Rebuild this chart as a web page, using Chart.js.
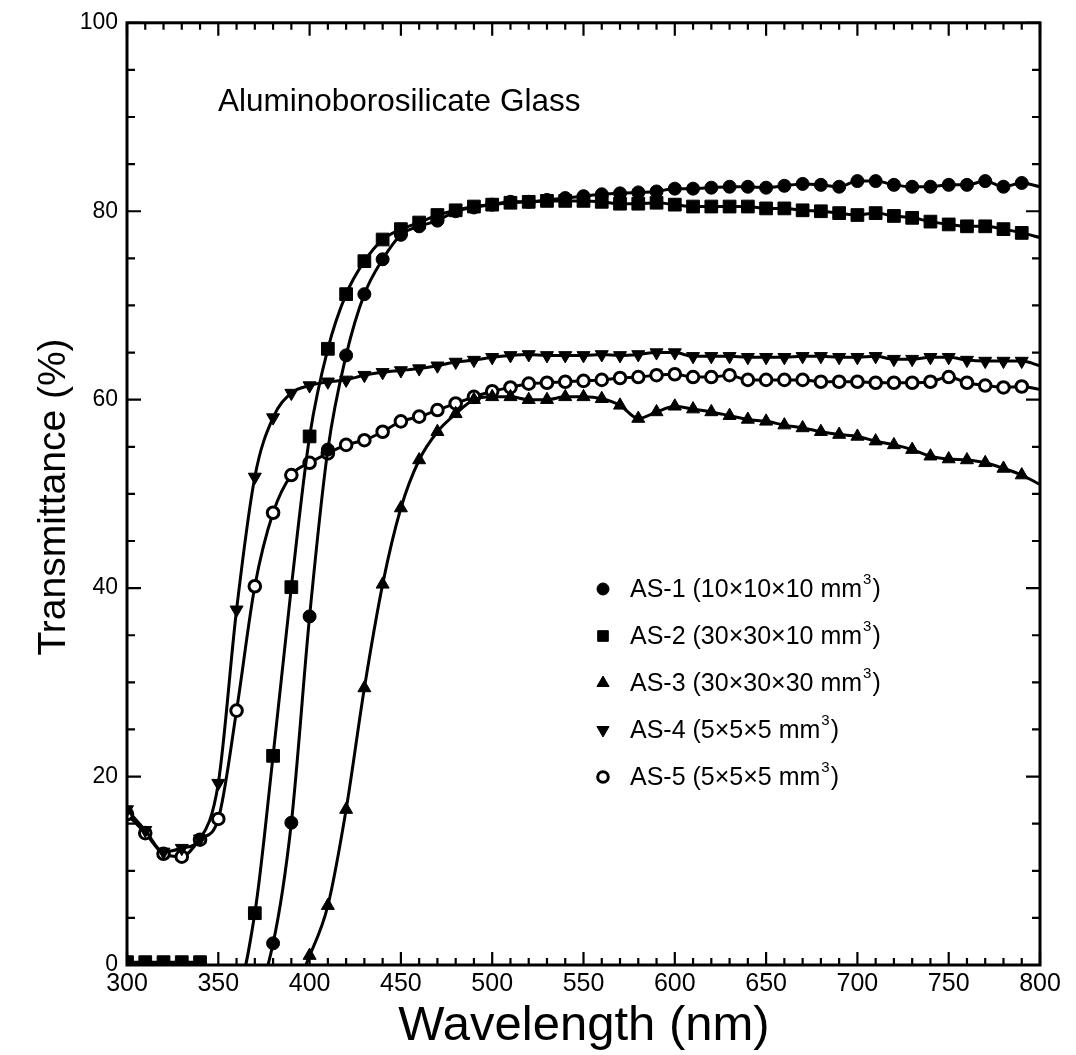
<!DOCTYPE html>
<html>
<head>
<meta charset="utf-8">
<script src="https://cdn.jsdelivr.net/npm/chart.js@4.4.1/dist/chart.umd.min.js"></script>
<style>
  html, body { margin: 0; padding: 0; background: #fff; }
  #wrap { width: 1076px; height: 1055px; }
</style>
</head>
<body>
<div id="wrap"><canvas id="chart" width="1076" height="1055"></canvas></div>
<script>
// wavelength grid (nm), one marker every 10 nm
const wavelengths = [300,310,320,330,340,350,360,370,380,390,400,410,420,430,440,450,460,470,480,490,500,
  510,520,530,540,550,560,570,580,590,600,610,620,630,640,650,660,670,680,690,700,
  710,720,730,740,750,760,770,780,790,800];

// transmittance (%); values below 0 fall outside the plot and are clipped
const as1 = [0.2,0.2,0.2,0.2,0.2,-1,-2,-3,2.3,15.1,37,54.7,64.7,71.2,74.9,77.5,78.4,79,80,80.4,80.7,
  81,81,81.2,81.4,81.6,81.8,81.9,82,82.1,82.4,82.4,82.5,82.6,82.6,82.5,82.7,82.9,82.8,82.6,83.2,
  83.2,82.8,82.6,82.6,82.8,82.8,83.2,82.6,83,82.6];
const as2 = [0.3,0.3,0.3,0.3,0.3,-1.5,-2.5,5.5,22.2,40.1,56.1,65.4,71.2,74.7,77,78.1,78.8,79.6,80.1,80.5,80.7,
  80.9,81,81.1,81.1,81.1,81,80.8,80.8,80.9,80.7,80.5,80.5,80.5,80.5,80.3,80.3,80.1,80,79.8,79.6,
  79.8,79.5,79.3,78.9,78.6,78.4,78.4,78.1,77.7,77.2];
const as3 = [-3,-3,-3,-3,-3,-3,-3,-3,-3,-3,1,6.3,16.5,29.4,40.4,48.5,53.6,56.6,58.5,60,60.3,
  60.3,60,60,60.3,60.3,60.1,59.4,58,58.7,59.3,59,58.7,58.3,57.9,57.7,57.3,57,56.6,56.3,56.1,
  55.6,55.2,54.7,54,53.7,53.6,53.3,52.7,52,51];
const as4 = [16.5,14.3,12,12.4,13.4,19.3,37.7,51.8,58.1,60.7,61.5,61.9,62.1,62.6,62.9,63.1,63.3,63.6,64,64.2,64.5,
  64.7,64.8,64.7,64.7,64.7,64.8,64.7,64.8,65,65,64.6,64.6,64.6,64.5,64.5,64.5,64.6,64.6,64.5,64.5,
  64.6,64.3,64.3,64.5,64.5,64.2,64.1,64.1,64.1,63.6];
const as5 = [16,14,11.8,11.5,13.3,15.5,27,40.2,48,52,53.3,54.3,55.2,55.7,56.6,57.7,58.2,58.9,59.6,60.3,60.9,
  61.3,61.7,61.8,61.9,62,62.1,62.3,62.4,62.6,62.7,62.4,62.4,62.6,62.1,62.1,62.1,62.1,61.9,61.9,61.9,
  61.8,61.8,61.8,61.9,62.4,61.8,61.5,61.3,61.4,61.1];

const seriesNames = ['AS-1', 'AS-2', 'AS-3', 'AS-4', 'AS-5'];
const sampleSizes = ['10\u00d710\u00d710', '30\u00d730\u00d710', '30\u00d730\u00d730', '5\u00d75\u00d75', '5\u00d75\u00d75'];
const xTicks = [300, 350, 400, 450, 500, 550, 600, 650, 700, 750, 800];
const yTicks = [0, 20, 40, 60, 80, 100];

const FONT = 'Arial, "Liberation Sans", Helvetica, sans-serif';

// marker look per series
const markers = [
  { style: 'circle', radius: 6.5, rotation: 0, fill: '#000', border: 1 },
  { style: 'rect', radius: 9, rotation: 0, fill: '#000', border: 1 },
  { style: 'triangle', radius: 7.5, rotation: 0, fill: '#000', border: 1 },
  { style: 'triangle', radius: 7.5, rotation: 180, fill: '#000', border: 1 },
  { style: 'circle', radius: 5.8, rotation: 0, fill: '#fff', border: 3 }
];

const seriesValues = [as1, as2, as3, as4, as5];

const datasets = seriesValues.map((vals, i) => ({
  label: seriesNames[i],
  data: wavelengths.map((x, j) => ({ x: x, y: vals[j] })),
  borderColor: '#000',
  borderWidth: 3,
  cubicInterpolationMode: 'monotone',
  pointStyle: markers[i].style,
  pointRotation: markers[i].rotation,
  pointRadius: ctx => (ctx.raw && ctx.raw.x === 800) ? 0 : markers[i].radius,
  pointBackgroundColor: markers[i].fill,
  pointBorderColor: '#000',
  pointBorderWidth: markers[i].border,
  pointHoverRadius: markers[i].radius
}));

function drawMarker(ctx, m, x, y) {
  ctx.save();
  ctx.fillStyle = m.fill;
  ctx.strokeStyle = '#000';
  ctx.lineWidth = m.border;
  ctx.beginPath();
  const r = m.radius;
  if (m.style === 'circle') {
    ctx.arc(x, y, r, 0, Math.PI * 2);
  } else if (m.style === 'rect') {
    const s = r * Math.SQRT1_2;
    ctx.rect(x - s, y - s, 2 * s, 2 * s);
  } else {
    const dir = m.rotation === 180 ? -1 : 1;
    ctx.moveTo(x, y - dir * r);
    ctx.lineTo(x + r * 0.866, y + dir * r * 0.5);
    ctx.lineTo(x - r * 0.866, y + dir * r * 0.5);
    ctx.closePath();
  }
  ctx.fill();
  ctx.stroke();
  ctx.restore();
}

const framePlugin = {
  id: 'frame',
  afterDraw(chart) {
    const ctx = chart.ctx;
    const xs = chart.scales.x, ys = chart.scales.y;
    const { left, right, top, bottom } = chart.chartArea;
    ctx.save();
    ctx.strokeStyle = '#000';
    ctx.lineWidth = 2.2;
    ctx.beginPath();
    for (let v = xs.min; v <= xs.max; v += 10) {
      const px = xs.getPixelForValue(v);
      const len = v % 50 === 0 ? 13 : 7;
      ctx.moveTo(px, bottom); ctx.lineTo(px, bottom - len);
      ctx.moveTo(px, top); ctx.lineTo(px, top + len);
    }
    for (let v = ys.min; v <= ys.max; v += 5) {
      const py = ys.getPixelForValue(v);
      const len = v % 20 === 0 ? 14 : 8;
      ctx.moveTo(left, py); ctx.lineTo(left + len, py);
      ctx.moveTo(right, py); ctx.lineTo(right - len, py);
    }
    ctx.stroke();
    ctx.lineWidth = 3;
    ctx.strokeRect(left, top, right - left, bottom - top);

    // texts
    ctx.fillStyle = '#000';
    ctx.textBaseline = 'middle';
    ctx.textAlign = 'left';
    ctx.font = '31.5px ' + FONT;
    ctx.fillText('Aluminoborosilicate Glass', 218, 102);

    ctx.textAlign = 'center';
    ctx.font = '49px ' + FONT;
    ctx.fillText('Wavelength (nm)', 584, 1026);

    ctx.save();
    ctx.translate(54, 497);
    ctx.rotate(-Math.PI / 2);
    ctx.font = '39px ' + FONT;
    ctx.fillText('Transmittance (%)', 0, 0);
    ctx.restore();

    // legend
    const lx = 603, tx = 630, ly0 = 589, dy = 47;
    seriesNames.forEach((name, i) => {
      const y = ly0 + i * dy;
      drawMarker(ctx, Object.assign({}, markers[i], { radius: i === 1 ? 7.5 : markers[i].radius - 0.5 }), lx, y);
      ctx.textAlign = 'left';
      ctx.textBaseline = 'middle';
      ctx.font = '25px ' + FONT;
      const main = name + ' (' + sampleSizes[i] + ' mm';
      ctx.fillText(main, tx, y + 1);
      let x = tx + ctx.measureText(main).width + 1;
      ctx.font = '15px ' + FONT;
      ctx.fillText('3', x, y - 9);
      x += ctx.measureText('3').width + 1;
      ctx.font = '25px ' + FONT;
      ctx.fillText(')', x, y + 1);
    });
    ctx.restore();
  }
};

new Chart(document.getElementById('chart').getContext('2d'), {
  type: 'line',
  data: { datasets: datasets },
  options: {
    responsive: false,
    animation: false,
    devicePixelRatio: 1,
    layout: { padding: { top: 17, right: 36, left: 0, bottom: 0 } },
    plugins: {
      legend: { display: false },
      tooltip: { enabled: false },
      title: { display: false }
    },
    scales: {
      x: {
        type: 'linear',
        min: 300,
        max: 800,
        afterFit: s => { s.height = 90; },
        afterBuildTicks: s => { s.ticks = xTicks.map(v => ({ value: v })); },
        grid: { display: false, drawTicks: false },
        border: { display: false },
        ticks: { color: '#000', padding: 4, maxRotation: 0, font: { family: FONT, size: 25 } }
      },
      y: {
        min: 0,
        max: 100,
        afterFit: s => { s.width = 127; },
        afterBuildTicks: s => { s.ticks = yTicks.map(v => ({ value: v })); },
        grid: { display: false, drawTicks: false },
        border: { display: false },
        ticks: { color: '#000', padding: 9, font: { family: FONT, size: 23 } }
      }
    }
  },
  plugins: [framePlugin]
});
</script>
</body>
</html>
